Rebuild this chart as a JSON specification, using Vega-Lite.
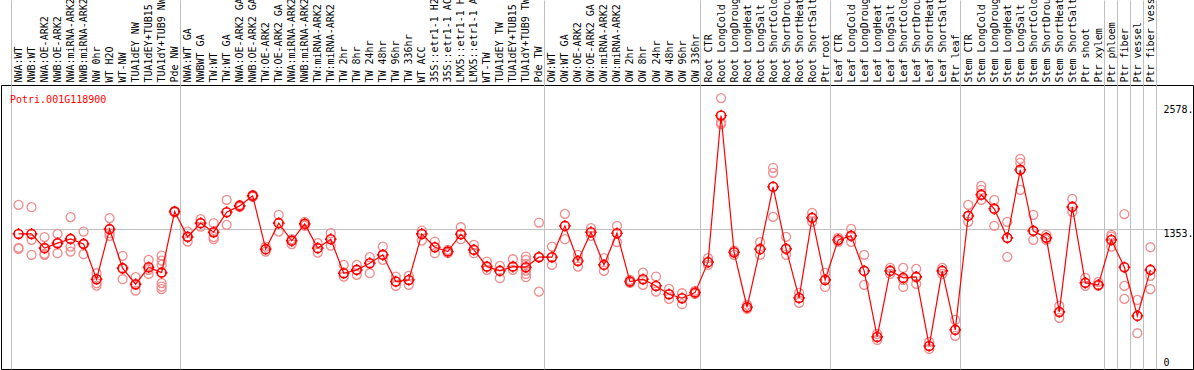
{
  "$schema": "https://vega.github.io/schema/vega-lite/v6.json",
  "width": 1192,
  "height": 284,
  "autosize": {"type": "none"},
  "padding": {"left": 1, "top": 85, "right": 1, "bottom": 1},
  "background": "white",
  "config": {"view": {"stroke": "black", "strokeWidth": 1}, "font": "DejaVu Sans Mono"},
  "title": {"text": "Potri.001G118900", "anchor": "start", "frame": "group", "color": "#ff0000", "font": "DejaVu Sans Mono", "fontSize": 10, "fontWeight": "normal", "baseline": "alphabetic", "offset": -133, "dx": 9},
  "data": {"values": [
    {"sample": "01|NWA:WT", "mean": 1300, "reps": [1586, 1163, 1153]},
    {"sample": "02|NWB:WT", "mean": 1300, "reps": [1563, 1241, 1094]},
    {"sample": "03|NWA:OE-ARK2", "mean": 1160, "reps": [1268, 1103, 1094]},
    {"sample": "04|NWB:OE-ARK2", "mean": 1209, "reps": [1300, 1209, 1110]},
    {"sample": "05|NWA:miRNA-ARK2", "mean": 1251, "reps": [1465, 1175, 1126]},
    {"sample": "06|NWB:miRNA-ARK2", "mean": 1202, "reps": [1323, 1199, 1100]},
    {"sample": "07|NW 0hr", "mean": 854, "reps": [913, 815, 791]},
    {"sample": "08|WT H2O", "mean": 1347, "reps": [1455, 1307, 1281]},
    {"sample": "09|WT-NW", "mean": 963, "reps": [1084, 956, 854]},
    {"sample": "10|TUA1dEY NW", "mean": 805, "reps": [874, 798, 742]},
    {"sample": "11|TUA1dEY+TUB15", "mean": 972, "reps": [1044, 946, 906]},
    {"sample": "12|TUA1dY+TUB9 NW", "mean": 919, "reps": [1087, 1037, 995, 815, 781, 756]},
    {"sample": "13|Pde NW", "mean": 1520, "reps": [1520, 1525, 1515]},
    {"sample": "14|NWA:WT GA", "mean": 1271, "reps": [1323, 1225]},
    {"sample": "15|NWBWT GA", "mean": 1406, "reps": [1445, 1372]},
    {"sample": "16|TW:WT", "mean": 1317, "reps": [1406, 1268, 1248]},
    {"sample": "17|TW:WT GA", "mean": 1514, "reps": [1635, 1389]},
    {"sample": "18|NWA:OE-ARK2 GA", "mean": 1576, "reps": [1586, 1563]},
    {"sample": "19|NWB:OE-ARK2 GA", "mean": 1675, "reps": [1685, 1665]},
    {"sample": "20|TW:OE-ARK2", "mean": 1150, "reps": [1175, 1126]},
    {"sample": "21|TW:OE-ARK2 GA", "mean": 1406, "reps": [1488, 1323]},
    {"sample": "22|NWA:miRNA-ARK2", "mean": 1232, "reps": [1248, 1199]},
    {"sample": "23|NWB:miRNA-ARK2", "mean": 1399, "reps": [1419, 1379]},
    {"sample": "24|TW:miRNA-ARK2", "mean": 1160, "reps": [1209, 1116]},
    {"sample": "25|TW:miRNA-ARK2", "mean": 1248, "reps": [1307, 1185]},
    {"sample": "26|TW 2hr", "mean": 913, "reps": [995, 880]},
    {"sample": "27|TW 8hr", "mean": 946, "reps": [995, 897]},
    {"sample": "28|TW 24hr", "mean": 1012, "reps": [1071, 913]},
    {"sample": "29|TW 48hr", "mean": 1094, "reps": [1175, 1044]},
    {"sample": "30|TW 96hr", "mean": 831, "reps": [880, 788]},
    {"sample": "31|TW 336hr", "mean": 847, "reps": [887, 798]},
    {"sample": "32|WT ACC", "mean": 1300, "reps": [1333, 1234]},
    {"sample": "33|35S::etr1-1 H2O", "mean": 1169, "reps": [1225, 1110]},
    {"sample": "34|35S::etr1-1 ACC", "mean": 1126, "reps": [1143, 1110]},
    {"sample": "35|LMX5::etr1-1 H2O", "mean": 1297, "reps": [1366, 1248]},
    {"sample": "36|LMX5::etr1-1 ACC", "mean": 1143, "reps": [1192, 1110]},
    {"sample": "37|WT-TW", "mean": 978, "reps": [1028, 946]},
    {"sample": "38|TUA1dEY TW", "mean": 936, "reps": [985, 864]},
    {"sample": "39|TUA1dEY+TUB15", "mean": 978, "reps": [1051, 946]},
    {"sample": "40|TUA1dY+TUB9 TW", "mean": 972, "reps": [1077, 1044, 1005, 939, 906, 874]},
    {"sample": "41|Pde TW", "mean": 1071, "reps": [1412, 732, 1071]},
    {"sample": "42|OW:WT", "mean": 1071, "reps": [1175, 995]},
    {"sample": "43|OW:WT GA", "mean": 1379, "reps": [1497, 1248]},
    {"sample": "44|OW:OE-ARK2", "mean": 1034, "reps": [1094, 978]},
    {"sample": "45|OW:OE-ARK2 GA", "mean": 1317, "reps": [1357, 1281]},
    {"sample": "46|OW:miRNA-ARK2", "mean": 995, "reps": [1061, 936]},
    {"sample": "47|OW:miRNA-ARK2", "mean": 1307, "reps": [1379, 1219]},
    {"sample": "48|OW 2hr", "mean": 831, "reps": [847, 818]},
    {"sample": "49|OW 8hr", "mean": 854, "reps": [919, 798]},
    {"sample": "50|OW 24hr", "mean": 788, "reps": [880, 732]},
    {"sample": "51|OW 48hr", "mean": 706, "reps": [759, 660]},
    {"sample": "52|OW 96hr", "mean": 667, "reps": [716, 608]},
    {"sample": "53|OW 336hr", "mean": 722, "reps": [739, 709]},
    {"sample": "54|Root CTR", "mean": 1022, "reps": [1061, 995]},
    {"sample": "55|Root LongCold", "mean": 2466, "reps": [2637, 2397, 2381]},
    {"sample": "56|Root LongDrought", "mean": 1120, "reps": [1136, 1094]},
    {"sample": "57|Root LongHeat", "mean": 578, "reps": [601, 562]},
    {"sample": "58|Root LongSalt", "mean": 1150, "reps": [1219, 1094]},
    {"sample": "59|Root ShortCold", "mean": 1764, "reps": [1951, 1901, 1468]},
    {"sample": "60|Root ShortDrought", "mean": 1153, "reps": [1271, 1094]},
    {"sample": "61|Root ShortHeat", "mean": 670, "reps": [719, 621]},
    {"sample": "62|Root ShortSalt", "mean": 1458, "reps": [1507, 1419]},
    {"sample": "63|Ptr root", "mean": 847, "reps": [916, 778]},
    {"sample": "64|Leaf CTR", "mean": 1241, "reps": [1261, 1222]},
    {"sample": "65|Leaf LongCold", "mean": 1281, "reps": [1350, 1222]},
    {"sample": "66|Leaf LongDrought", "mean": 936, "reps": [1094, 798]},
    {"sample": "67|Leaf LongHeat", "mean": 286, "reps": [315, 256]},
    {"sample": "68|Leaf LongSalt", "mean": 936, "reps": [965, 906]},
    {"sample": "69|Leaf ShortCold", "mean": 867, "reps": [965, 847, 778]},
    {"sample": "70|Leaf ShortDrought", "mean": 877, "reps": [956, 808]},
    {"sample": "71|Leaf ShortHeat", "mean": 197, "reps": [236, 167]},
    {"sample": "72|Leaf ShortSalt", "mean": 936, "reps": [965, 906]},
    {"sample": "73|Ptr leaf", "mean": 355, "reps": [453, 296]},
    {"sample": "74|Stem CTR", "mean": 1478, "reps": [1586, 1419]},
    {"sample": "75|Stem LongCold", "mean": 1685, "reps": [1773, 1734, 1635]},
    {"sample": "76|Stem LongDrought", "mean": 1547, "reps": [1635, 1379]},
    {"sample": "77|Stem LongHeat", "mean": 1261, "reps": [1419, 1074]},
    {"sample": "78|Stem LongSalt", "mean": 1931, "reps": [2039, 2000, 1734]},
    {"sample": "79|Stem ShortCold", "mean": 1330, "reps": [1488, 1241]},
    {"sample": "80|Stem ShortDrought", "mean": 1261, "reps": [1291, 1241]},
    {"sample": "81|Stem ShortHeat", "mean": 532, "reps": [591, 473]},
    {"sample": "82|Stem ShortSalt", "mean": 1566, "reps": [1645, 1517]},
    {"sample": "83|Ptr shoot", "mean": 818, "reps": [867, 788]},
    {"sample": "84|Ptr xylem", "mean": 798, "reps": [828, 788]},
    {"sample": "85|Ptr phloem", "mean": 1241, "reps": [1291, 1274, 1175]},
    {"sample": "86|Ptr fiber", "mean": 972, "reps": [1495, 788, 660]},
    {"sample": "87|Ptr vessel", "mean": 493, "reps": [650, 322]},
    {"sample": "88|Ptr fiber vessel", "mean": 946, "reps": [1169, 887, 756]}
  ]},
  "encoding": {
    "x": {
      "field": "sample", "type": "ordinal",
      "sort": "ascending",
      "scale": {"domain": {"unionWith": ["89|"]}, "range": [11, 1168.9], "paddingInner": 0, "paddingOuter": 0},
      "axis": {
        "orient": "top", "title": null, "domain": false,
        "labelExpr": "split(datum.value, '|')[1]",
        "labelAngle": -90, "labelAlign": "left", "labelBaseline": "middle",
        "labelFont": "DejaVu Sans Mono", "labelFontSize": 10, "labelColor": "black",
        "labelPadding": -82, "labelLimit": 0, "labelOverlap": false,
        "tickSize": 85, "tickOffset": -7.8, "labelOffset": 7.8, "tickWidth": 1,
        "tickColor": {"condition": {"test": "indexof(['01','14','42','54','64','74','85','86','87','88','89'], slice(datum.value, 0, 2)) >= 0", "value": "#c0c0c0"}, "value": "transparent"},
        "grid": true,
        "gridColor": {"condition": {"test": "indexof(['01','14','42','54','64','74','85','86','87','88','89'], slice(datum.value, 0, 2)) >= 0", "value": "#c0c0c0"}, "value": "transparent"},
        "gridOpacity": 1, "gridWidth": 1
      }
    }
  },
  "layer": [
    {
      "transform": [{"flatten": ["reps"], "as": ["rep"]}],
      "mark": {"type": "point", "shape": "circle", "filled": false, "size": 80, "stroke": "#f08c8c", "strokeWidth": 1.3, "opacity": 1},
      "encoding": {
        "y": {"field": "rep", "type": "quantitative", "scale": {"domain": [-30, 2766], "nice": false, "zero": false},
          "axis": {
            "orient": "right", "title": null, "values": [0, 1353, 2578], "domain": false, "ticks": false, "tickSize": 0,
            "labelExpr": "datum.value == 0 ? '0' : datum.value + '.'",
            "labelAlign": "left", "labelPadding": -30,
            "labelBaseline": {"condition": {"test": "datum.value == 0", "value": "alphabetic"}, "value": "top"},
            "labelFont": "DejaVu Sans Mono", "labelFontSize": 10, "labelColor": "black",
            "grid": true, "gridColor": {"condition": {"test": "datum.value == 1353", "value": "#c0c0c0"}, "value": "transparent"}, "gridOpacity": 1
          }
        }
      }
    },
    {
      "mark": {"type": "line", "color": "#ff0000", "strokeWidth": 1.2},
      "encoding": {"y": {"field": "mean", "type": "quantitative"}}
    },
    {
      "mark": {"type": "point", "shape": "M-1,0A1,1,0,1,1,1,0A1,1,0,1,1,-1,0Z M0,-1.3L0,-0.75 M0,0.75L0,1.3 M-1.3,0L-0.75,0 M0.75,0L1.3,0", "filled": false, "size": 80, "stroke": "#ff0000", "strokeWidth": 1.6, "opacity": 1},
      "encoding": {"y": {"field": "mean", "type": "quantitative"}}
    }
  ]
}
